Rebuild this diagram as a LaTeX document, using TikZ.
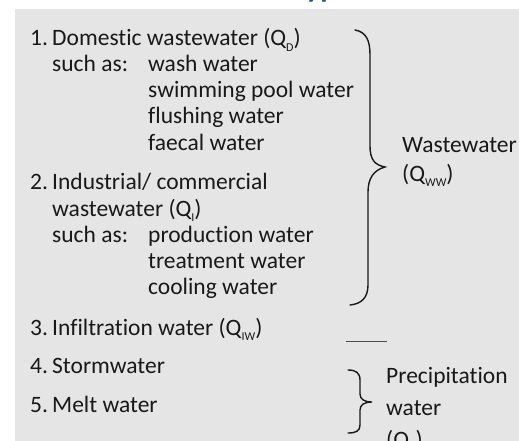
\documentclass[tikz,border=0pt]{standalone}
\usepackage{fontspec}
\setmainfont[Ligatures={NoCommon}]{Carlito}
\definecolor{panelgrey}{HTML}{E5E5E5}
\definecolor{titleblue}{HTML}{1F4E9C}
\newcommand\qsub[1]{\raisebox{-0.5ex}{\fontsize{12}{12}\selectfont #1}}
\begin{document}
\begin{tikzpicture}[x=1pt,y=-1pt,
  txt/.style={anchor=base west,inner sep=0pt,font=\fontsize{23.5}{26}\selectfont,text=black!90},
  bracepen/.style={line width=1.4pt,black!90,line cap=round}]
\useasboundingbox (0,0) rectangle (519,441);
\clip (0,0) rectangle (519,441);
\fill[white] (0,0) rectangle (519,441);
\fill[panelgrey] (15,9) rectangle (519,441);
\node[anchor=base west,inner sep=0pt,font=\fontsize{30}{30}\selectfont\bfseries,text=titleblue] (title) at (292,-2) {Types};
% list
\node[txt] (n1) at (30,46) {1.};
\node[txt] (l1) at (52,46) {Domestic wastewater (Q\qsub{D})};
\node[txt] (s1) at (52,72) {such as:};
\node[txt] (a1) at (148,72) {wash water};
\node[txt] (a2) at (148,98) {swimming pool water};
\node[txt] (a3) at (148,124) {flushing water};
\node[txt] (a4) at (148,150) {faecal water};
\node[txt] (n2) at (30,189) {2.};
\node[txt] (l2) at (52,189) {Industrial/ commercial};
\node[txt] (l2b) at (52,216) {wastewater (Q\qsub{I})};
\node[txt] (s2) at (52,242) {such as:};
\node[txt] (b1) at (148,242) {production water};
\node[txt] (b2) at (148,268) {treatment water};
\node[txt] (b3) at (148,294) {cooling water};
\node[txt] (n3) at (30,335) {3.};
\node[txt] (l3) at (52,335) {Infiltration water (Q\qsub{IW})};
\node[txt] (n4) at (30,373) {4.};
\node[txt] (l4) at (52,373) {Stormwater};
\node[txt] (n5) at (30,412) {5.};
\node[txt] (l5) at (52,412) {Melt water};
% right labels
\node[txt] (ww) at (402,153) {Wastewater};
\node[txt] (qww) at (402,181) {(Q\qsub{WW})};
\node[txt] (pw) at (386,383) {Precipitation};
\node[txt] (pw2) at (386,415) {water};
\node[txt] (qp) at (386,447) {(Q\qsub{R})};
% braces
\draw[bracepen] (355,30) .. controls (366,32) and (370,40) .. (370,55) -- (370,146)
  .. controls (370,160) and (375,165) .. (385,167)
  .. controls (374,170) and (368,178) .. (368,192) -- (368,285)
  .. controls (368,298) and (361,304) .. (350,305);
\draw[line width=0.6pt,black!70] (346,341) -- (387,341);
\draw[bracepen] (348,370) .. controls (356,370) and (360,373) .. (360,380) -- (360,394)
  .. controls (360,399) and (364,402) .. (372,402)
  .. controls (364,402) and (360,405) .. (360,410) -- (360,425)
  .. controls (360,431) and (356,433) .. (348,433);
\end{tikzpicture}
\end{document}
